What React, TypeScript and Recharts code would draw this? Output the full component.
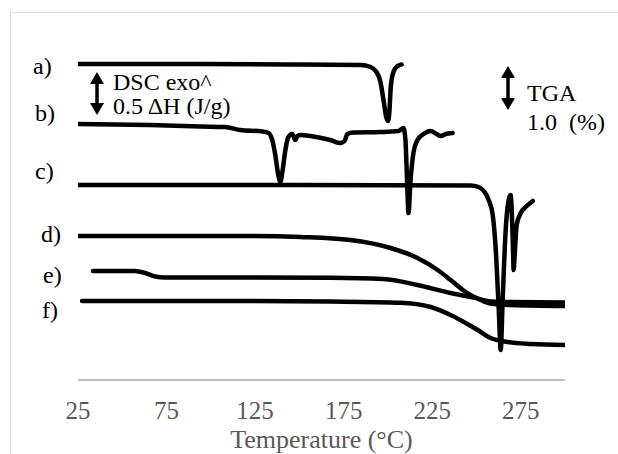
import React from "react";
import { LineChart, Line, XAxis, YAxis, Label } from "recharts";

// Temperature (°C) and stacked signal (arbitrary offset units) for each trace
const aTemp = [25, 94, 150.6, 184.5, 190.2, 193.6, 195.8, 197.5, 199.2, 200.1, 200.9, 201.5, 202.6, 204.3, 206.6, 207.7];
const aValue = [31.6, 31.6, 31.55, 31.5, 31.3, 30.8, 29.8, 28, 26.2, 25.9, 27, 29, 30.5, 31.2, 31.5, 31.55];

const bTemp = [25, 65.7, 94, 108.1, 116.6, 129.1, 132.5, 134.7, 136.4, 138.1, 139.3, 140.4, 142.1, 143.8, 146, 147.7, 148.9, 150.6, 156.2, 167.5, 173.2, 175.5, 177.1, 180.5, 195.8, 206, 208.8, 209.9, 210.5, 211.1, 211.6, 212.8, 214.5, 216.7, 220.1, 224.1, 227.5, 229.8, 232.6, 236.5];
const bValue = [25.6, 25.5, 25.35, 25.3, 25.0, 24.85, 24.7, 24.0, 22.5, 20.5, 19.8, 20.8, 23.0, 24.3, 24.6, 24.0, 24.4, 24.5, 24.4, 24.0, 23.7, 23.9, 24.6, 24.75, 24.8, 24.9, 25.2, 24.0, 21.5, 18.5, 16.7, 20.0, 22.8, 24.0, 24.6, 24.9, 24.6, 24.4, 24.6, 24.7];

const cTemp = [25, 150.6, 246.7, 251.2, 254.6, 256.9, 259.2, 260.9, 262.6, 263.7, 264.8, 266.5, 268.2, 269.3, 269.9, 270.5, 271, 271.6, 272.7, 275, 278.4, 281.8];
const cValue = [19.5, 19.5, 19.45, 19.3, 18.8, 18, 16.5, 13, 7, 3, 8, 15, 18, 18.5, 17, 14, 11, 12.5, 15.5, 16.7, 17.4, 17.9];

const dTemp = [25, 122.3, 150.6, 178.8, 201.5, 216.7, 228.1, 235.4, 243.9, 252.4, 258, 269.3, 300];
const dValue = [14.4, 14.4, 14.3, 14.0, 13.2, 12.2, 11.0, 10.0, 8.8, 8.0, 7.65, 7.5, 7.4];

const eTemp = [33.5, 57.2, 62.9, 68.6, 74.2, 122.3, 167.5, 197.5, 216.7, 235.4, 248.4, 258, 269.3, 300];
const eValue = [10.9, 10.9, 10.7, 10.35, 10.25, 10.25, 10.22, 10.1, 9.5, 8.7, 8.25, 7.85, 7.8, 7.75];

const fTemp = [27.3, 122.3, 167.5, 207.1, 224.1, 235.4, 243.9, 250.7, 258, 267.6, 280.7, 300];
const fValue = [7.9, 7.9, 7.85, 7.73, 7.3, 6.5, 5.7, 5.0, 4.2, 3.8, 3.6, 3.5];

const xTicks = [25, 75, 125, 175, 225, 275];
const traceLabels = ["a)", "b)", "c)", "d)", "e)", "f)"];

const zip = (t: number[], v: number[]) => t.map((x, i) => ({ t: x, v: v[i] }));

const series = [
  zip(aTemp, aValue),
  zip(bTemp, bValue),
  zip(cTemp, cValue),
  zip(dTemp, dValue),
  zip(eTemp, eValue),
  zip(fTemp, fValue),
];

const labelPos = [
  { x: 33, y: 66 },
  { x: 35, y: 113 },
  { x: 35, y: 171 },
  { x: 41, y: 234 },
  { x: 43, y: 275 },
  { x: 42, y: 310 },
];

const serif = "Liberation Serif, serif";

function DoubleArrow({ x, y1, y2 }: { x: number; y1: number; y2: number }) {
  const h = 12;
  const w = 7;
  return (
    <g>
      <line x1={x} y1={y1 + h - 1} x2={x} y2={y2 - h + 1} stroke="#000" strokeWidth={3.5} />
      <polygon points={`${x},${y1} ${x - w},${y1 + h} ${x + w},${y1 + h}`} fill="#000" />
      <polygon points={`${x},${y2} ${x - w},${y2 - h} ${x + w},${y2 - h}`} fill="#000" />
    </g>
  );
}

export default function App() {
  return (
    <div style={{ position: "absolute", left: 0, top: 0, width: 618, height: 454, overflow: "hidden", background: "#fff", fontFamily: serif }}>
      <div
        style={{
          position: "absolute",
          left: 10,
          top: 12,
          width: 640,
          height: 480,
          borderLeft: "1px solid #d9d9d9",
          borderTop: "1px solid #d9d9d9",
        }}
      />
      <div style={{ position: "absolute", left: 0, top: 0 }}>
        <LineChart width={618} height={454} margin={{ top: 20, right: 53, bottom: 0, left: 78 }}>
          <XAxis
            dataKey="t"
            type="number"
            domain={[25, 300]}
            ticks={xTicks}
            allowDataOverflow
            tickLine={false}
            axisLine={{ stroke: "#bfbfbf", strokeWidth: 2 }}
            tick={{ fill: "#595959", fontSize: 25, fontFamily: serif }}
            tickMargin={15}
            height={74}
          >
            <Label
              value="Temperature (°C)"
              position="insideBottom"
              offset={6}
              style={{ fill: "#595959", fontSize: 26, fontFamily: serif }}
            />
          </XAxis>
          <YAxis type="number" domain={[0, 36]} hide allowDataOverflow />
          {series.map((d, i) => (
            <Line
              key={traceLabels[i]}
              data={d}
              dataKey="v"
              type="monotone"
              stroke="#000"
              strokeWidth={4.5}
              strokeLinecap="round"
              strokeLinejoin="round"
              dot={false}
              activeDot={false}
              isAnimationActive={false}
            />
          ))}
        </LineChart>
      </div>
      <svg width={618} height={454} style={{ position: "absolute", left: 0, top: 0, pointerEvents: "none" }}>
        {traceLabels.map((t, i) => (
          <text key={t} x={labelPos[i].x} y={labelPos[i].y} dominantBaseline="central" fontFamily={serif} fontSize={24} fill="#000">
            {t}
          </text>
        ))}
        <DoubleArrow x={97} y1={72} y2={115} />
        <text x={113} y={82} dominantBaseline="central" fontFamily={serif} fontSize={24} fill="#000">DSC exo^</text>
        <text x={113} y={106} dominantBaseline="central" fontFamily={serif} fontSize={24} fill="#000">0.5 ΔH (J/g)</text>
        <DoubleArrow x={508} y1={66} y2={110} />
        <text x={527} y={93} dominantBaseline="central" fontFamily={serif} fontSize={24} fill="#000">TGA</text>
        <text x={527} y={122} dominantBaseline="central" fontFamily={serif} fontSize={24} fill="#000" style={{ whiteSpace: "pre" }}>{"1.0  (%)"}</text>
      </svg>
    </div>
  );
}
